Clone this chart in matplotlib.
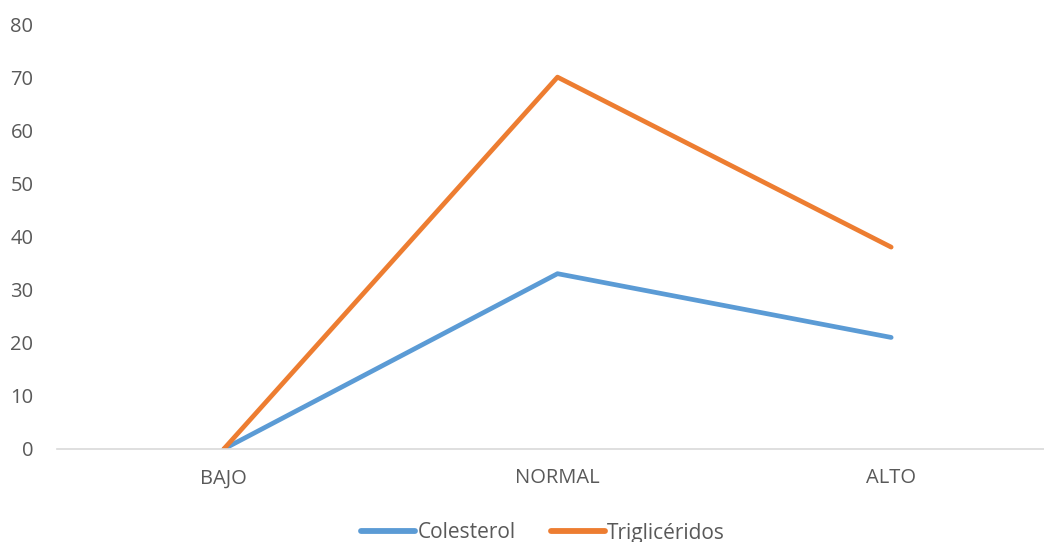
import matplotlib.pyplot as plt

categorias = ['BAJO', 'NORMAL', 'ALTO']
colesterol = [0, 33, 21]
trigliceridos = [0, 70, 38]
y_ticks = [0, 10, 20, 30, 40, 50, 60, 70, 80]

plt.rcParams['font.family'] = ['Open Sans', 'DejaVu Sans']
gris = '#595959'

W, H = 1044, 542
fig = plt.figure(figsize=(W / 100, H / 100), dpi=100)
# ejes en pixeles: x de 57 a 1058, y de 449 (0) a 24 (80)
ax = fig.add_axes([57 / W, 1 - 449 / H, 1001 / W, 425 / H])

x = range(len(categorias))
ax.plot(x, colesterol, color='#5B9BD5', linewidth=3.4, label='Colesterol', solid_capstyle='round')
ax.plot(x, trigliceridos, color='#ED7D31', linewidth=3.4, label='Triglicéridos', solid_capstyle='round')

ax.set_xlim(-0.5, 2.5)
ax.set_ylim(0, 80)
ax.set_yticks(y_ticks)
ax.set_xticks(list(x))
ax.set_xticklabels(categorias)

for s in ['top', 'right', 'left']:
    ax.spines[s].set_visible(False)
ax.spines['bottom'].set_color('#D9D9D9')
ax.spines['bottom'].set_linewidth(1.2)
ax.tick_params(axis='both', length=0, colors=gris, labelsize=14.5)
ax.tick_params(axis='x', pad=14)
ax.tick_params(axis='y', pad=17)

leg = fig.legend(loc='center', bbox_to_anchor=(543 / W, 1 - 533 / H), ncol=2,
                 frameon=False, fontsize=15, handlelength=2.6, handletextpad=0.1,
                 columnspacing=1.7)
for line in leg.get_lines():
    line.set_linewidth(4.2)
for t in leg.get_texts():
    t.set_color(gris)

fig.savefig('out.png', dpi=100)
